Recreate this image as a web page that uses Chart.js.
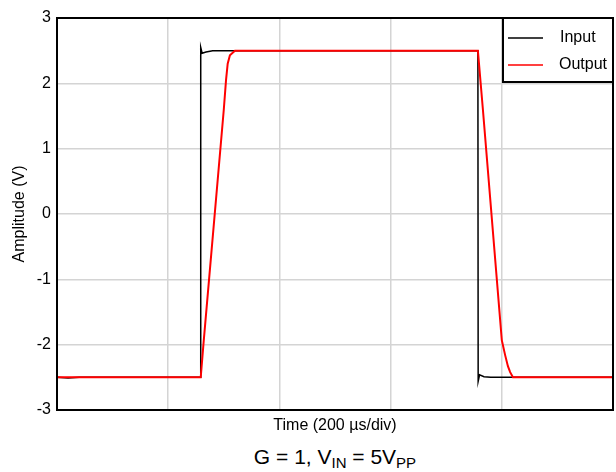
<!DOCTYPE html>
<html lang="en">
<head>
    <meta charset="UTF-8">
    <title>Step Response</title>
    <script src="https://cdn.jsdelivr.net/npm/chart.js"></script>
    <style>
        body { margin: 0; background: #fff; font-family: "Liberation Sans", Arial, sans-serif; }
        #wrap { position: relative; width: 616px; height: 472px; }
        #caption { position: absolute; left: 57px; width: 556px; top: 445px; text-align: center; font-size: 21px; color: #000; line-height: 23px; }
        #caption sub { font-size: 15px; vertical-align: -4px; line-height: 0; }
    </style>
</head>
<body>
    <div id="wrap">
        <canvas id="chart" width="616" height="441"></canvas>
        <div id="caption">G = 1, V<sub>IN</sub> = 5V<sub>PP</sub></div>
    </div>

    <script>
        // time in µs (200 µs/div, 5 divisions), amplitude in V
        const inputTime = [0, 20, 40, 258, 258.5, 261, 268, 280, 757, 757.5, 760, 768, 780, 1000];
        const inputVolt = [-2.5, -2.51, -2.5, -2.5, 2.55, 2.46, 2.48, 2.5, 2.5, -2.56, -2.46, -2.49, -2.5, -2.5];

        const outputTime = [0, 258.5, 264, 300, 304, 307, 311, 320, 757, 766, 800, 806, 811, 815, 820, 1000];
        const outputVolt = [-2.5, -2.5, -1.93, 1.6, 2.05, 2.3, 2.43, 2.5, 2.5, 1.6, -1.93, -2.16, -2.33, -2.42, -2.5, -2.5];

        const yTicks = [-3, -2, -1, 0, 1, 2, 3];
        const seriesNames = ['Input', 'Output'];
        const seriesColors = ['#000000', '#ff0000'];

        const FONT = '"Liberation Sans", Arial, sans-serif';

        function toPoints(xs, ys) {
            return xs.map((x, i) => ({ x: x, y: ys[i] }));
        }

        // frame on top/right + boxed legend
        const framePlugin = {
            id: 'frame',
            afterDraw(chart) {
                const ctx = chart.ctx;
                const a = chart.chartArea;
                ctx.save();
                ctx.strokeStyle = '#000';
                ctx.lineWidth = 2;
                ctx.strokeRect(a.left, a.top, a.right - a.left, a.bottom - a.top);

                // legend box
                const bx = 503, by = a.top, bw = a.right - 503, bh = 64;
                ctx.fillStyle = '#fff';
                ctx.fillRect(bx, by, bw, bh);
                ctx.strokeRect(bx, by, bw, bh);
                ctx.font = '16px ' + FONT;
                ctx.textBaseline = 'middle';
                chart.data.datasets.forEach((ds, i) => {
                    const ly = by + 20 + i * 27;
                    ctx.strokeStyle = ds.borderColor;
                    ctx.lineWidth = 1.5;
                    ctx.beginPath();
                    ctx.moveTo(bx + 5, ly);
                    ctx.lineTo(bx + 40, ly);
                    ctx.stroke();
                    ctx.fillStyle = '#000';
                    ctx.fillText(ds.label, bx + 57 - i, ly);
                });
                ctx.restore();
            }
        };

        new Chart(document.getElementById('chart').getContext('2d'), {
            type: 'line',
            data: {
                datasets: [
                    {
                        label: seriesNames[0],
                        data: toPoints(inputTime, inputVolt),
                        borderColor: seriesColors[0],
                        borderWidth: 1.5,
                        pointRadius: 0,
                        tension: 0,
                        order: 1
                    },
                    {
                        label: seriesNames[1],
                        data: toPoints(outputTime, outputVolt),
                        borderColor: seriesColors[1],
                        borderWidth: 2,
                        pointRadius: 0,
                        tension: 0,
                        order: 0
                    }
                ]
            },
            options: {
                responsive: false,
                animation: false,
                layout: { padding: { left: 0, right: 3, top: 18, bottom: 0 } },
                plugins: {
                    legend: { display: false },
                    tooltip: { enabled: false }
                },
                scales: {
                    x: {
                        type: 'linear',
                        min: 0,
                        max: 1000,
                        ticks: { display: false, stepSize: 200 },
                        grid: { color: '#d4d4d4', lineWidth: 1.5, drawTicks: false },
                        border: { color: '#000', width: 2 },
                        title: {
                            display: true,
                            text: 'Time (200 µs/div)',
                            color: '#000',
                            font: { family: FONT, size: 16 },
                            padding: { top: 0, bottom: 6 }
                        },
                        afterFit(scale) { scale.height = 31; }
                    },
                    y: {
                        min: -3,
                        max: 3,
                        afterBuildTicks(scale) { scale.ticks = yTicks.map(v => ({ value: v })); },
                        ticks: { color: '#000', font: { family: FONT, size: 16 }, padding: 6 },
                        grid: { color: '#d4d4d4', lineWidth: 1.5, drawTicks: false },
                        border: { color: '#000', width: 2 },
                        title: {
                            display: true,
                            text: 'Amplitude (V)',
                            color: '#000',
                            font: { family: FONT, size: 16 },
                            padding: { top: 10, bottom: 0 }
                        },
                        afterFit(scale) { scale.width = 57; }
                    }
                }
            },
            plugins: [framePlugin]
        });
    </script>
</body>
</html>
